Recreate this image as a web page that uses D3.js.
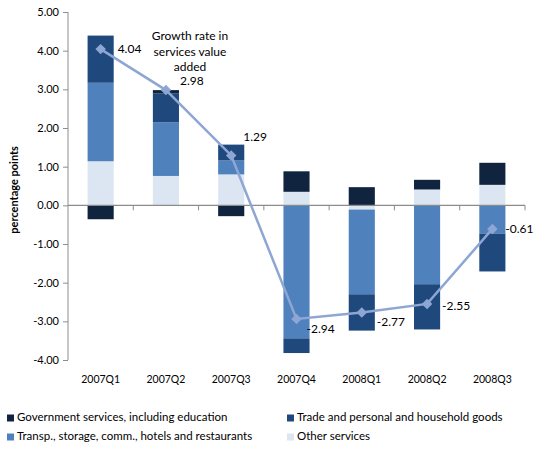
<!DOCTYPE html>
<html>
<head>
<meta charset="utf-8">
<script src="https://cdn.jsdelivr.net/npm/d3@7/dist/d3.min.js"></script>
<style>
  html, body { margin: 0; padding: 0; background: #fff; }
  svg { display: block; font-family: Lato, "Liberation Sans", sans-serif; }
</style>
</head>
<body>
<svg id="chart" width="534" height="449"></svg>
<script>
// Contributions to services value added growth, percentage points
const categories = ["2007Q1", "2007Q2", "2007Q3", "2007Q4", "2008Q1", "2008Q2", "2008Q3"];
const government = [-0.36, 0.09, -0.28, 0.53, 0.47, 0.25, 0.57];
const trade      = [1.22, 0.74, 0.41, -0.38, -0.94, -1.17, -0.98];
const transport  = [2.03, 1.39, 0.36, -3.44, -2.19, -2.04, -0.73];
const other      = [1.14, 0.76, 0.80, 0.35, -0.11, 0.41, 0.53];
const growth     = [4.04, 2.98, 1.29, -2.94, -2.77, -2.55, -0.61];
const yTicks     = [5, 4, 3, 2, 1, 0, -1, -2, -3, -4];

const seriesNames = {
  government: "Government services, including education",
  trade: "Trade and personal and household goods",
  transport: "Transp., storage, comm., hotels and restaurants",
  other: "Other services"
};
const colors = {
  government: "#10243f",
  trade: "#1f497d",
  transport: "#4f81bd",
  other: "#dce6f2"
};
// stacking order from the zero line outward
const stackKeys = ["other", "transport", "trade", "government"];
const values = { government, trade, transport, other };

const rows = categories.map((c, i) => {
  const r = { category: c };
  stackKeys.forEach(k => r[k] = values[k][i]);
  return r;
});

const svg = d3.select("#chart");
const plotLeft = 68, plotRight = 525, plotTop = 12, plotBottom = 360;
const axisColor = "#8c8c8c";

const x = d3.scaleBand().domain(categories).range([plotLeft, plotRight]).paddingInner(0.6).paddingOuter(0.3);
const y = d3.scaleLinear().domain([-4, 5]).range([plotBottom, plotTop]);

const stacked = d3.stack().keys(stackKeys).offset(d3.stackOffsetDiverging)(rows);

// bars
svg.append("g").selectAll("g").data(stacked).join("g")
  .attr("fill", d => colors[d.key])
  .selectAll("rect").data(d => d).join("rect")
  .attr("x", d => x(d.data.category))
  .attr("width", x.bandwidth())
  .attr("y", d => y(Math.max(d[0], d[1])))
  .attr("height", d => Math.abs(y(d[0]) - y(d[1])));

// y axis
const fmt = d => d3.format(".2f")(d).replace("−", "-");
const yAxis = svg.append("g").attr("transform", `translate(${plotLeft},0)`)
  .call(d3.axisLeft(y).tickValues(yTicks).tickSize(5).tickPadding(4).tickFormat(fmt));
yAxis.select(".domain").attr("stroke", axisColor).attr("d", `M0,${y(5)}V${y(-4)}`);
yAxis.selectAll(".tick line").attr("stroke", axisColor);
yAxis.selectAll(".tick text").attr("font-size", 11).attr("fill", "#000")
  .attr("font-family", "Lato, sans-serif");

// category axis along zero line, ticks between categories
const boundaries = d3.range(categories.length + 1)
  .map(i => plotLeft + i * ((plotRight - plotLeft) / categories.length));
svg.append("line").attr("x1", plotLeft).attr("x2", plotRight).attr("y1", y(0)).attr("y2", y(0))
  .attr("stroke", axisColor).attr("stroke-width", 1.2);
svg.append("g").selectAll("line").data(boundaries.slice(1)).join("line")
  .attr("x1", d => d).attr("x2", d => d).attr("y1", y(0)).attr("y2", y(0) + 5)
  .attr("stroke", axisColor);

svg.append("g").selectAll("text").data(categories).join("text")
  .attr("x", d => x(d) + x.bandwidth() / 2).attr("y", 380)
  .attr("text-anchor", "middle").attr("dominant-baseline", "middle")
  .attr("font-size", 10.5).attr("fill", "#000").text(d => d);

// y title
svg.append("text").attr("transform", `translate(15,${y(0.4)}) rotate(-90)`)
  .attr("text-anchor", "middle").attr("dominant-baseline", "middle")
  .attr("font-size", 11).attr("font-weight", "bold").text("percentage points");

// growth line
const lineColor = "#8ea6d4";
const cx = i => x(categories[i]) + x.bandwidth() / 2;
svg.append("path").datum(growth)
  .attr("fill", "none").attr("stroke", lineColor).attr("stroke-width", 2.5)
  .attr("d", d3.line().x((d, i) => cx(i)).y(d => y(d)));
svg.append("g").selectAll("path").data(growth).join("path")
  .attr("transform", (d, i) => `translate(${cx(i)},${y(d)})`)
  .attr("d", d3.symbol(d3.symbolDiamond2, 70)())
  .attr("fill", lineColor);

// value labels beside each point
const labelOffsets = [[17, 1], [14, -8], [12, -17], [10, 11], [15, 11], [15, 3], [13, 1]];
svg.append("g").selectAll("text").data(growth).join("text")
  .attr("x", (d, i) => cx(i) + labelOffsets[i][0])
  .attr("y", (d, i) => y(d) + labelOffsets[i][1])
  .attr("dominant-baseline", "middle").attr("font-size", 12).attr("fill", "#000")
  .text(fmt);

// line series title
const titleLines = ["Growth rate in", "services value", "added"];
svg.append("g").selectAll("text").data(titleLines).join("text")
  .attr("x", 190).attr("y", (d, i) => 37 + i * 15.5)
  .attr("text-anchor", "middle").attr("dominant-baseline", "middle")
  .attr("font-size", 12).attr("fill", "#000").text(d => d);

// legend
const legendItems = ["government", "trade", "transport", "other"];
const legend = svg.append("g").selectAll("g").data(legendItems).join("g")
  .attr("transform", (d, i) => `translate(${i % 2 === 0 ? 7 : 287},${i < 2 ? 418 : 437})`);
legend.append("rect").attr("x", 0).attr("y", -3.5).attr("width", 7).attr("height", 7)
  .attr("fill", d => colors[d]);
legend.append("text").attr("x", 10).attr("y", 0).attr("dominant-baseline", "middle")
  .attr("font-size", 11.5).attr("fill", "#000").text(d => seriesNames[d]);
</script>
</body>
</html>
